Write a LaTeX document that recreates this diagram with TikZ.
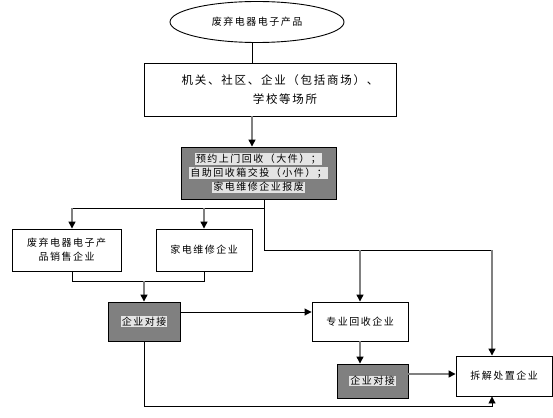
\documentclass[tikz,border=0pt]{standalone}
\usepackage{fontspec}
\newfontfamily\cjk[LetterSpace=15]{Noto Sans CJK SC}
\usetikzlibrary{shapes.geometric, arrows.meta}
\definecolor{xamdam}{HTML}{808080}
\definecolor{xamnhat}{HTML}{E4E4E4}
\newcommand{\nen}[1]{{\setlength{\fboxsep}{0.8pt}\colorbox{xamnhat}{#1}}}

\begin{document}
\begin{tikzpicture}[
        x=1pt, y=-1pt,
        every node/.style={draw, line width=0.9pt, inner sep=0pt, align=center, font=\fontsize{10}{14}\cjk},
        hop/.style={rectangle, fill=white},
        xam/.style={rectangle, fill=xamdam},
        noi/.style={line width=0.9pt},
        mui/.style={-{Triangle[length=7pt, width=7pt]}},
        xammui/.style={draw=xamdam, line width=1.3pt, -{Triangle[length=7pt, width=7pt, color=black]}}
    ]
        \useasboundingbox (0,0) rectangle (553,417);

        % Các nút
        \node [ellipse, minimum width=174pt, minimum height=41pt] (nguon) at (257,22) {废弃电器电子产品};
        \node [hop, minimum width=252pt, minimum height=53pt, font=\fontsize{11.5}{19}\cjk] (coquan) at (270,89.5)
            {\hspace*{20pt}机关、社区、企业（包括商场）、\\\hspace*{30pt}学校等场所};
        \node [xam, minimum width=155pt, minimum height=52pt] (thugom) at (258.5,173)
            {\nen{预约上门回收（大件）；}\\\nen{自助回收箱交投（小件）；}\\\nen{家电维修企业报废}};
        \node [hop, minimum width=109pt, minimum height=42pt] (ban) at (66.5,250) {废弃电器电子产\\品销售企业};
        \node [hop, minimum width=96pt, minimum height=42pt] (sua) at (204,250) {家电维修企业};
        \node [xam, minimum width=72pt, minimum height=39pt] (noi1) at (144,321.5) {\nen{企业对接}};
        \node [hop, minimum width=96pt, minimum height=39pt] (chuyen) at (360,321.5) {专业回收企业};
        \node [xam, minimum width=71pt, minimum height=34pt] (noi2) at (372.5,381) {\nen{企业对接}};
        \node [hop, minimum width=96pt, minimum height=40pt] (xuly) at (504,376) {拆解处置企业};

        % Các điểm rẽ
        \coordinate (truc) at (252,0);
        \coordinate (re1) at (264,208);
        \coordinate (re2) at (264,250);
        \coordinate (trai) at (72,208);
        \coordinate (phai) at (492,250);
        \coordinate (gop) at (144,281);
        \coordinate (ngang1) at (0,312);
        \coordinate (ngang2) at (0,374);
        \coordinate (day) at (0,406);

        % Các đường nối
        \draw[noi] (nguon.south -| truc) -- (coquan.north -| truc);
        \draw[xammui] (coquan.south -| truc) -- (thugom.north -| truc);
        \draw[noi] (thugom.south -| re1) -- (re2) -- (phai);
        \draw[noi] (re1) -- (trai);
        \draw[xammui] (trai) -- (trai |- ban.north);
        \draw[xammui] (re1 -| sua) -- (sua.north);
        \draw[xammui] (re2 -| chuyen) -- (chuyen.north);
        \draw[xammui] (phai) -- (phai |- xuly.north);
        \draw[noi] (trai |- ban.south) -- (trai |- gop) -- (sua.south |- gop) -- (sua.south);
        \draw[xammui] (gop) -- (noi1.north);
        \draw[noi, mui] (noi1.east |- ngang1) -- (chuyen.west |- ngang1);
        \draw[noi, mui] (noi1.south) -- (noi1.south |- day) -- (phai |- day) -- (phai |- xuly.south);
        \draw[xammui] (chuyen.south) -- (chuyen.south |- noi2.north);
        \draw[xammui] (noi2.east |- ngang2) -- (xuly.west |- ngang2);
    \end{tikzpicture}
\end{document}
